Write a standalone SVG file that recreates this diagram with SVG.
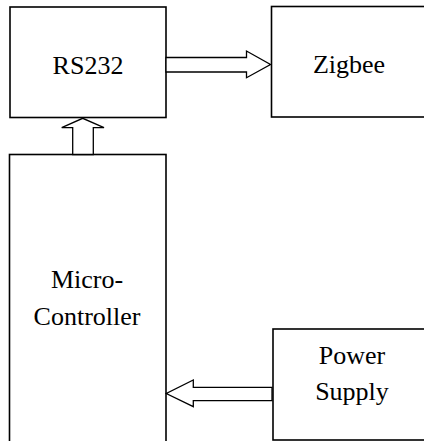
<svg xmlns="http://www.w3.org/2000/svg" width="424" height="441" viewBox="0 0 424 441">
<style>
.box{fill:#fff;stroke:#000;stroke-width:1.6}
.arr{fill:#fff;stroke:#000;stroke-width:1.3;stroke-linejoin:miter}
.t{font-family:'Liberation Serif','Times New Roman',serif;font-size:26px;fill:#000;text-anchor:middle}
</style>
<rect width="424" height="441" fill="#fff"/>
<g id="rs232">
<rect class="box" x="10" y="7" width="156" height="110.5"/>
<text class="t" x="88" y="74">RS232</text>
</g>
<g id="zigbee">
<rect class="box" x="271.5" y="6.5" width="160" height="110.5"/>
<text class="t" x="349" y="73">Zigbee</text>
</g>
<g id="microcontroller">
<rect class="box" x="9.5" y="154.5" width="156.5" height="300"/>
<text class="t" x="87" y="288">Micro-</text>
<text class="t" x="87" y="325">Controller</text>
</g>
<g id="powersupply">
<rect class="box" x="273" y="329" width="160" height="111"/>
<text class="t" x="352" y="364">Power</text>
<text class="t" x="352" y="400">Supply</text>
</g>
<g id="connectors">
<polygon class="arr" points="166,57.5 246.5,57.5 246.5,51 270.5,64.5 246.5,77.7 246.5,72 166,72"/>
<polygon class="arr" points="72.7,154.5 72.7,127.7 61.7,127.7 82.7,118.3 104,127.7 93.3,127.7 93.3,154.5"/>
<polygon class="arr" points="272,387.3 193.3,387.3 193.3,380 166.3,393.5 193.3,406.7 193.3,400.7 272,400.7"/>
</g>
</svg>
